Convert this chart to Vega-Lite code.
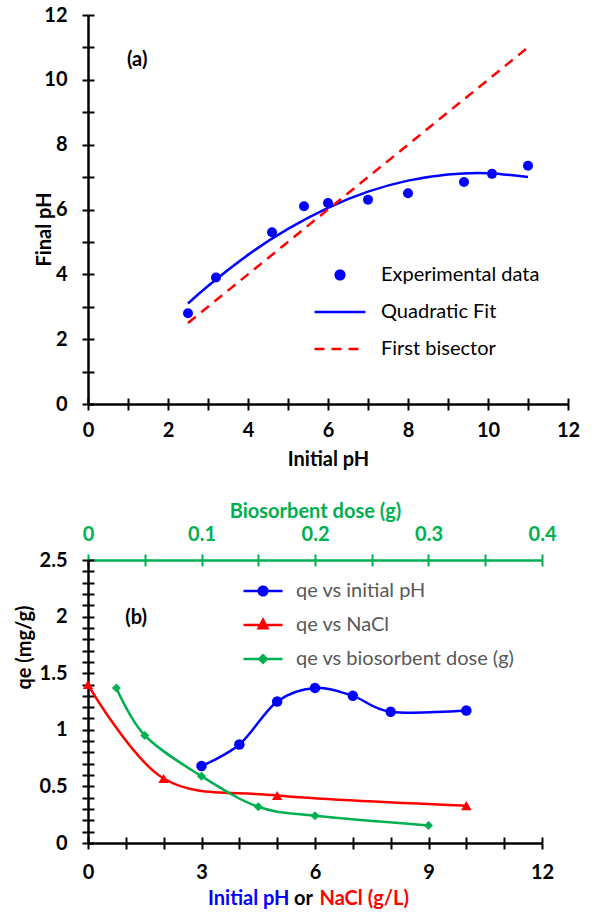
{
  "$schema": "https://vega.github.io/schema/vega-lite/v6.json",
  "background": "white",
  "padding": {"left": 14, "top": 5, "right": 5, "bottom": 5},
  "bounds": "flush",
  "spacing": 156,
  "resolve": {"scale": {"color": "independent"}, "legend": {"color": "independent"}},
  "config": {
    "view": {"stroke": null},
    "font": "Lato",
    "axis": {
      "grid": false,
      "domainColor": "black",
      "domainWidth": 2.5,
      "tickColor": "black",
      "tickWidth": 2,
      "tickSize": 6,
      "labelFont": "Lato",
      "labelFontWeight": "bold",
      "labelFontSize": 20,
      "labelColor": "black",
      "labelFlush": false,
      "labelOverlap": false,
      "titleFont": "Lato",
      "titleFontWeight": "bold",
      "titleFontSize": 20,
      "titleColor": "black"
    },
    "axisX": {"labelPadding": 10},
    "axisY": {"labelPadding": 15}
  },
  "datasets": {
    "exp": [
      {"x": 2.5, "y": 2.8}, {"x": 3.2, "y": 3.9}, {"x": 4.6, "y": 5.3}, {"x": 5.4, "y": 6.1},
      {"x": 6.0, "y": 6.2}, {"x": 7.0, "y": 6.3}, {"x": 8.0, "y": 6.5}, {"x": 9.4, "y": 6.85},
      {"x": 10.1, "y": 7.1}, {"x": 11.0, "y": 7.35}
    ],
    "fit": [
      {"x": 2.5, "y": 3.1}, {"x": 3, "y": 3.64}, {"x": 4, "y": 4.6}, {"x": 5, "y": 5.4},
      {"x": 6, "y": 6.05}, {"x": 7, "y": 6.55}, {"x": 8, "y": 6.89}, {"x": 9, "y": 7.08},
      {"x": 10, "y": 7.12}, {"x": 11, "y": 7.0}
    ],
    "bis": [{"x": 2.5, "y": 2.5}, {"x": 11, "y": 11}],
    "ph": [
      {"x": 3, "qe": 0.68}, {"x": 4, "qe": 0.87}, {"x": 5, "qe": 1.25}, {"x": 6, "qe": 1.37},
      {"x": 7, "qe": 1.3}, {"x": 8, "qe": 1.16}, {"x": 10, "qe": 1.17}
    ],
    "nacl": [
      {"x": 0, "qe": 1.4}, {"x": 2, "qe": 0.57}, {"x": 5, "qe": 0.42}, {"x": 10, "qe": 0.33}
    ],
    "dose": [
      {"dose": 0.025, "qe": 1.37}, {"dose": 0.05, "qe": 0.95}, {"dose": 0.1, "qe": 0.59},
      {"dose": 0.15, "qe": 0.32}, {"dose": 0.2, "qe": 0.24}, {"dose": 0.3, "qe": 0.155}
    ]
  },
  "vconcat": [
    {
      "width": 480,
      "height": 389,
      "layer": [
        {
          "data": {"name": "fit"},
          "mark": {"type": "line", "strokeWidth": 2.5, "interpolate": "natural"},
          "encoding": {
            "x": {"field": "x", "type": "quantitative", "scale": {"domain": [0, 12]},
              "axis": {"orient": "bottom", "values": [0,1,2,3,4,5,6,7,8,9,10,11,12],
                "labelExpr": "datum.value % 2 === 0 ? datum.label : ''",
                "title": "Initial pH", "titleY": 55, "titleBaseline": "middle"}},
            "y": {"field": "y", "type": "quantitative", "scale": {"domain": [0, 12]},
              "axis": {"orient": "left", "values": [0,1,2,3,4,5,6,7,8,9,10,11,12],
                "labelExpr": "datum.value % 2 === 0 ? datum.label : ''",
                "title": "Final pH", "titleX": -44, "titleY": 214, "titleBaseline": "middle"}},
            "color": {"datum": "Quadratic Fit", "type": "nominal",
              "scale": {"domain": ["Experimental data", "Quadratic Fit", "First bisector"], "range": ["#0000FF", "#0000FF", "#FF0000"]},
              "legend": {
                "orient": "none", "legendX": 225, "legendY": 233, "title": null,
                "labelFont": "Lato", "labelFontSize": 20, "labelColor": "black", "labelLimit": 400,
                "labelOffset": 14, "rowPadding": -7, "padding": 0,
                "encode": {"symbols": {"update": {
                  "shape": {"signal": "datum.value === 'Experimental data' ? 'M0.17,0A0.17,0.17 0 1,1 -0.17,0A0.17,0.17 0 1,1 0.17,0' : 'M-1,0H1'"},
                  "size": {"value": 2601},
                  "strokeWidth": {"value": 2.5},
                  "fill": {"signal": "datum.value === 'First bisector' ? '#FF0000' : '#0000FF'"},
                  "stroke": {"signal": "datum.value === 'First bisector' ? '#FF0000' : '#0000FF'"},
                  "strokeDash": {"signal": "datum.value === 'First bisector' ? [10,7] : [1,0]"},
                  "opacity": {"value": 1}
                }}}
              }}
          }
        },
        {
          "data": {"name": "bis"},
          "mark": {"type": "line", "strokeWidth": 2.5, "strokeDash": [10, 7]},
          "encoding": {
            "x": {"field": "x", "type": "quantitative", "scale": {"domain": [0, 12]},
              "axis": {"orient": "bottom", "values": [0,1,2,3,4,5,6,7,8,9,10,11,12], "offset": -6, "tickSize": 6, "labels": false, "domain": false, "title": null}},
            "y": {"field": "y", "type": "quantitative", "scale": {"domain": [0, 12]},
              "axis": {"orient": "left", "values": [0,1,2,3,4,5,6,7,8,9,10,11,12], "offset": -6, "tickSize": 6, "labels": false, "domain": false, "title": null}},
            "color": {"datum": "First bisector", "type": "nominal"}
          }
        },
        {
          "data": {"name": "exp"},
          "mark": {"type": "point", "filled": true, "size": 100, "opacity": 1},
          "encoding": {
            "x": {"field": "x", "type": "quantitative", "scale": {"domain": [0, 12]}, "axis": null},
            "y": {"field": "y", "type": "quantitative", "scale": {"domain": [0, 12]}, "axis": null},
            "color": {"datum": "Experimental data", "type": "nominal"}
          }
        },
        {
          "data": {"values": [{}]},
          "mark": {"type": "text", "font": "Lato", "fontSize": 20, "fontWeight": "bold", "color": "black"},
          "encoding": {
            "x": {"datum": 1.23, "type": "quantitative", "axis": null},
            "y": {"datum": 10.6, "type": "quantitative", "axis": null},
            "text": {"value": "(a)"}
          }
        }
      ],
      "resolve": {"axis": {"x": "independent", "y": "independent"}}
    },
    {
      "width": 454,
      "height": 283,
      "layer": [
        {
          "data": {"name": "ph"},
          "mark": {"type": "line", "strokeWidth": 2.5, "interpolate": "cardinal", "point": {"filled": true, "size": 110, "opacity": 1}},
          "encoding": {
            "x": {"field": "x", "type": "quantitative", "scale": {"domain": [0, 12]},
              "axis": {"orient": "bottom", "values": [0,1,2,3,4,5,6,7,8,9,10,11,12], "labelPadding": 13,
                "labelExpr": "datum.value % 3 === 0 ? datum.label : ''",
                "title": "Initial pH", "titleColor": "#0000FF", "titleX": 201, "titleY": 55, "titleAlign": "right", "titleBaseline": "middle"}},
            "y": {"field": "qe", "type": "quantitative", "scale": {"domain": [0, 2.5], "nice": false},
              "axis": {"orient": "left", "values": [0,0.1,0.2,0.3,0.4,0.5,0.6,0.7,0.8,0.9,1,1.1,1.2,1.3,1.4,1.5,1.6,1.7,1.8,1.9,2,2.1,2.2,2.3,2.4,2.5],
                "format": "~g",
                "labelExpr": "abs(datum.value*2 - round(datum.value*2)) < 0.001 ? datum.label : ''",
                "title": "qe (mg/g)", "titleX": -64, "titleY": 87, "titleBaseline": "middle"}},
            "color": {"datum": "qe vs initial pH", "type": "nominal",
              "scale": {"domain": ["qe vs initial pH", "qe vs NaCl", "qe vs biosorbent dose (g)"], "range": ["#0000FF", "#FF0000", "#00B050"]},
              "legend": {
                "orient": "none", "legendX": 154, "legendY": 10, "title": null,
                "labelFont": "Lato", "labelFontSize": 20, "labelColor": "#595959", "labelLimit": 400,
                "labelOffset": 12, "rowPadding": 3, "padding": 0,
                "encode": {"symbols": {"update": {
                  "shape": {"signal": "datum.value === 'qe vs initial pH' ? 'M-1,0H1M0.22,0A0.22,0.22 0 1,1 -0.22,0A0.22,0.22 0 1,1 0.22,0' : datum.value === 'qe vs NaCl' ? 'M-1,0H1M0,-0.27L0.23,0.17L-0.23,0.17Z' : 'M-1,0H1M0,-0.19L0.19,0L0,0.19L-0.19,0Z'"},
                  "size": {"value": 1521},
                  "strokeWidth": {"value": 2.5},
                  "fill": {"signal": "datum.value === 'qe vs initial pH' ? '#0000FF' : datum.value === 'qe vs NaCl' ? '#FF0000' : '#00B050'"},
                  "stroke": {"signal": "datum.value === 'qe vs initial pH' ? '#0000FF' : datum.value === 'qe vs NaCl' ? '#FF0000' : '#00B050'"},
                  "strokeDash": {"value": [1, 0]},
                  "opacity": {"value": 1}
                }}}
              }}
          }
        },
        {
          "data": {"name": "nacl"},
          "mark": {"type": "line", "strokeWidth": 2.5, "interpolate": "cardinal"},
          "encoding": {
            "x": {"field": "x", "type": "quantitative", "scale": {"domain": [0, 12]},
              "axis": {"orient": "bottom", "values": [0,1,2,3,4,5,6,7,8,9,10,11,12], "offset": -6, "tickSize": 6, "labels": false, "domain": false,
                "title": "or", "titleX": 215, "titleY": 61, "titleAlign": "center", "titleBaseline": "middle"}},
            "y": {"field": "qe", "type": "quantitative", "scale": {"domain": [0, 2.5], "nice": false},
              "axis": {"orient": "left", "values": [0,0.1,0.2,0.3,0.4,0.5,0.6,0.7,0.8,0.9,1,1.1,1.2,1.3,1.4,1.5,1.6,1.7,1.8,1.9,2,2.1,2.2,2.3,2.4,2.5], "offset": -6, "tickSize": 6, "labels": false, "domain": false, "title": null}},
            "color": {"datum": "qe vs NaCl", "type": "nominal"}
          }
        },
        {
          "data": {"name": "nacl"},
          "mark": {"type": "point", "shape": "triangle-up", "filled": true, "size": 110, "opacity": 1},
          "encoding": {
            "x": {"field": "x", "type": "quantitative", "scale": {"domain": [0, 12]},
              "axis": {"orient": "bottom", "ticks": false, "labels": false, "domain": false,
                "title": "NaCl (g/L)", "titleColor": "#FF0000", "titleX": 231, "titleY": 55, "titleAlign": "left", "titleBaseline": "middle"}},
            "y": {"field": "qe", "type": "quantitative", "scale": {"domain": [0, 2.5], "nice": false}, "axis": null},
            "color": {"datum": "qe vs NaCl", "type": "nominal"}
          }
        },
        {
          "data": {"name": "dose"},
          "mark": {"type": "line", "strokeWidth": 2.5, "interpolate": "cardinal"},
          "encoding": {
            "x": {"field": "dose", "type": "quantitative", "scale": {"domain": [0, 0.4]},
              "axis": {"orient": "top", "values": [0,0.05,0.1,0.15,0.2,0.25,0.3,0.35,0.4], "format": "~g",
                "labelExpr": "abs(datum.value*10 - round(datum.value*10)) < 0.001 ? datum.label : ''",
                "domainColor": "#00B050", "tickColor": "#00B050", "labelColor": "#00B050",
                "title": "Biosorbent dose (g)", "titleColor": "#00B050", "titleY": -49, "titleBaseline": "middle"}},
            "y": {"field": "qe", "type": "quantitative", "scale": {"domain": [0, 2.5], "nice": false}, "axis": null},
            "color": {"datum": "qe vs biosorbent dose (g)", "type": "nominal"}
          }
        },
        {
          "data": {"name": "dose"},
          "mark": {"type": "point", "shape": "diamond", "filled": true, "size": 80, "opacity": 1},
          "encoding": {
            "x": {"field": "dose", "type": "quantitative", "scale": {"domain": [0, 0.4]},
              "axis": {"orient": "top", "values": [0,0.05,0.1,0.15,0.2,0.25,0.3,0.35,0.4], "offset": -6, "tickSize": 6, "tickColor": "#00B050", "labels": false, "domain": false, "title": null}},
            "y": {"field": "qe", "type": "quantitative", "scale": {"domain": [0, 2.5], "nice": false}, "axis": null},
            "color": {"datum": "qe vs biosorbent dose (g)", "type": "nominal"}
          }
        },
        {
          "data": {"values": [{}]},
          "mark": {"type": "text", "font": "Lato", "fontSize": 20, "fontWeight": "bold", "color": "black"},
          "encoding": {
            "x": {"datum": 1.27, "type": "quantitative", "scale": {"domain": [0, 12]}, "axis": null},
            "y": {"datum": 1.99, "type": "quantitative", "scale": {"domain": [0, 2.5], "nice": false}, "axis": null},
            "text": {"value": "(b)"}
          }
        }
      ],
      "resolve": {"scale": {"x": "independent"}, "axis": {"x": "independent", "y": "independent"}}
    }
  ]
}
